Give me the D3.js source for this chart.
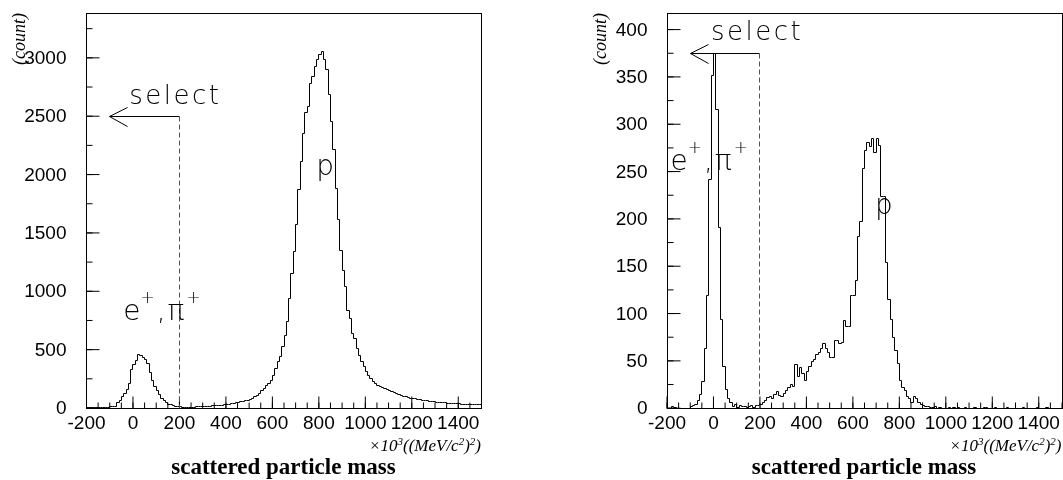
<!DOCTYPE html>
<html><head><meta charset="utf-8">
<script src="https://cdn.jsdelivr.net/npm/d3@7"></script>
<style>
body{margin:0;background:#fff;}
svg{display:block;filter:grayscale(1);}
.thin{font-family:"DejaVu Sans","Liberation Sans",sans-serif;font-weight:200;}
</style></head>
<body><svg id="c" width="1063" height="480"></svg>
<script>
// ---- data ----
const binStart = -200, binWidth = 10;
const leftCounts = [
 6,5,6,4,5,6,5,7,6,8,
 9,10,15,43,66,95,128,160,214,330,
 372,409,457,449,429,414,380,300,238,180,
 146,117,80,60,43,32,26,20,15,12,
 9,8,6,7,6,8,7,9,10,11,
 12,13,15,16,18,19,21,23,25,27,
 30,33,36,39,45,47,54,55,62,67,
 73,81,96,110,124,150,167,196,210,239,
 282,339,396,439,525,625,739,939,1153,1340,
 1568,1868,2111,2354,2534,2583,2777,2840,2926,2983,
 3026,3055,2983,2899,2683,2454,2211,1883,1611,1353,
 1182,1039,839,768,640,596,510,453,396,353,
 310,282,253,224,210,195,187,175,167,155,
 150,139,135,124,118,110,101,95,90,85,
 81,78,72,70,66,62,60,58,55,52,
 50,48,46,45,44,42,40,38,39,36,
 35,34,33,32,30,31,28,29,27,26];
const rightCounts = [
 0,0,2,1,0,0,0,0,0,0,
 2,3,4,8,14,28,63,119,242,352,
 375,316,191,94,44,20,10,6,2,4,
 1,3,2,2,1,2,3,1,3,3,
 4,6,8,11,12,10,15,18,13,12,
 16,19,22,25,23,46,33,43,37,29,
 39,44,49,51,57,59,63,68,63,59,
 54,54,71,72,68,69,93,86,86,119,
 119,135,181,197,253,272,281,276,285,270,
 285,278,224,224,154,115,94,75,61,47,
 29,22,19,12,10,6,12,10,6,4,
 3,2,2,1,1,2,0,1,0,0,
 0,1,0,1,0,1,0,0,1,0,
 0,0,1,0,0,0,1,1,0,0,
 0,1,0,0,0,0,1,0,0,0,
 0,0,0,1,0,0,0,0,0,1,
 0,0,0,1,0,0,0,0,0,0];
const xDomain = [-200, 1500];
const xTickLabels = [-200,0,200,400,600,800,1000,1200,1400];
const xMinorTicks = d3.range(-200, 1501, 50);
const leftYMax = 3380, rightYMax = 417;
const leftYTicks = [0,500,1000,1500,2000,2500,3000];
const leftYMinor = d3.range(0, 3380, 250);
const rightYTicks = [0,50,100,150,200,250,300,350,400];
const rightYMinor = d3.range(0, 417, 25);
const leftSelect = {cut:200, tip:-100, level:2500};
const rightSelect = {cut:200, tip:-100, level:375};

const svg = d3.select("#c");
const SANS = "'Liberation Sans',Arial,sans-serif";
const SERIF = "'Liberation Serif','Times New Roman',serif";

function panel(o){
  const g = svg.append("g");
  const x = d3.scaleLinear().domain(xDomain).range([o.x0, o.x1]);
  const y = d3.scaleLinear().domain([0, o.ymax]).range([o.yb, o.yt]);
  const X = v => Math.round(x(v)) + 0.5;
  const Y = v => Math.round(y(v)) + 0.5;

  // histogram
  const pts = o.counts.map((c,i)=>[binStart + i*binWidth, c]);
  pts.push([binStart + o.counts.length*binWidth, o.counts[o.counts.length-1]]);
  const line = d3.line().x(d=>X(d[0])).y(d=>Y(d[1])).curve(d3.curveStepAfter);
  g.append("path").attr("d", line(pts)).attr("fill","none").attr("stroke","#000").attr("stroke-width",1);

  // y ticks (inside, to the right)
  const yMaj = d3.axisRight(y).tickValues(o.yTicks).tickSize(13).tickFormat("");
  const yMin = d3.axisRight(y).tickValues(o.yMinor).tickSize(6).tickFormat("");
  [yMaj,yMin].forEach(a=>{
    const ag = g.append("g").attr("transform",`translate(${X(xDomain[0])},0)`).call(a);
    ag.select(".domain").remove();
    ag.selectAll("line").attr("stroke","#000");
  });
  const yLab = g.append("g").attr("transform",`translate(${X(xDomain[0])},0)`)
    .call(d3.axisLeft(y).tickValues(o.yTicks).tickSize(0).tickPadding(20).tickFormat(d=>String(d)));
  yLab.select(".domain").remove();
  yLab.selectAll("text").attr("font-family",SANS).attr("font-size",19).attr("fill","#000");

  // x ticks (inside, upward)
  const xMaj = d3.axisTop(x).tickValues(xTickLabels).tickSize(12).tickFormat("");
  const xMin = d3.axisTop(x).tickValues(xMinorTicks).tickSize(6).tickFormat("");
  [xMaj,xMin].forEach(a=>{
    const ag = g.append("g").attr("transform",`translate(0,${Y(0)})`).call(a);
    ag.select(".domain").remove();
    ag.selectAll("line").attr("stroke","#000");
  });
  const xLab = g.append("g").attr("transform",`translate(0,${Y(0)})`)
    .call(d3.axisBottom(x).tickValues(xTickLabels).tickSize(0).tickPadding(7).tickFormat(d=>String(d)));
  xLab.select(".domain").remove();
  xLab.selectAll("text").attr("font-family",SANS).attr("font-size",19).attr("fill","#000");

  // frame
  g.append("rect").attr("x",X(xDomain[0])).attr("y",Y(o.ymax))
    .attr("width",X(xDomain[1])-X(xDomain[0])).attr("height",Y(0)-Y(o.ymax))
    .attr("fill","none").attr("stroke","#000");

  // select arrow
  const s = o.sel;
  g.append("path").attr("d",`M${X(s.cut)},${Y(s.level)}H${X(s.tip)}`).attr("stroke","#000").attr("fill","none");
  g.append("path").attr("d",`M${X(s.tip)+18},${Y(s.level)-9}L${X(s.tip)},${Y(s.level)}L${X(s.tip)+18},${Y(s.level)+10}`)
    .attr("stroke","#000").attr("fill","none");
  g.append("path").attr("d",`M${X(s.cut)},${Y(s.level)}V${Y(0)}`).attr("stroke","#555").attr("stroke-dasharray","5,3").attr("fill","none");

  g.append("text").attr("class","thin").attr("x",x(o.selText[0])).attr("y",y(o.selText[1]))
    .attr("font-size",26).attr("letter-spacing",2.5).text("select");

  // e+, pi+
  const t = g.append("text").attr("class","thin").attr("x",x(o.epText[0])).attr("y",y(o.epText[1])).attr("font-size",28);
  t.append("tspan").text("e");
  t.append("tspan").attr("dy",-17).attr("font-size",17).text("+");
  t.append("tspan").attr("dy",17).attr("dx",2).text(",");
  t.append("tspan").attr("dx",2).text("π");
  t.append("tspan").attr("dy",-17).attr("dx",2).attr("font-size",17).text("+");

  g.append("text").attr("class","thin").attr("x",x(o.pText[0])).attr("y",y(o.pText[1])).attr("font-size",28).text("p");

  // axis titles
  g.append("text").attr("transform",`translate(${o.x0-61},${o.yt}) rotate(-90)`)
    .attr("text-anchor","end").attr("font-family",SERIF)
    .attr("font-style","italic").attr("font-size",18).text("(count)");
  const u = g.append("text").attr("x",o.x1).attr("y",451).attr("text-anchor","end")
    .attr("font-family",SERIF).attr("font-style","italic").attr("font-size",17);
  u.append("tspan").text("×10");
  u.append("tspan").attr("dy",-6).attr("font-size",11).text("3");
  u.append("tspan").attr("dy",6).text("((MeV/c");
  u.append("tspan").attr("dy",-6).attr("font-size",11).text("2");
  u.append("tspan").attr("dy",6).text(")");
  u.append("tspan").attr("dy",-6).attr("font-size",11).text("2");
  u.append("tspan").attr("dy",6).text(")");
  g.append("text").attr("x",(o.x0+o.x1)/2).attr("y",474).attr("text-anchor","middle")
    .attr("font-family",SERIF).attr("font-weight","bold").attr("font-size",23)
    .text("scattered particle mass");
}

panel({x0:86, x1:481, yt:13, yb:407.5, ymax:leftYMax, counts:leftCounts,
  yTicks:leftYTicks, yMinor:leftYMinor, sel:leftSelect,
  selText:[-14,2600], epText:[-40,750], pText:[791,1992]});
panel({x0:666.5, x1:1061.5, yt:13, yb:407.7, ymax:rightYMax, counts:rightCounts,
  yTicks:rightYTicks, yMinor:rightYMinor, sel:rightSelect,
  selText:[-9,389], epText:[-183,251], pText:[697,205]});
</script></body></html>
